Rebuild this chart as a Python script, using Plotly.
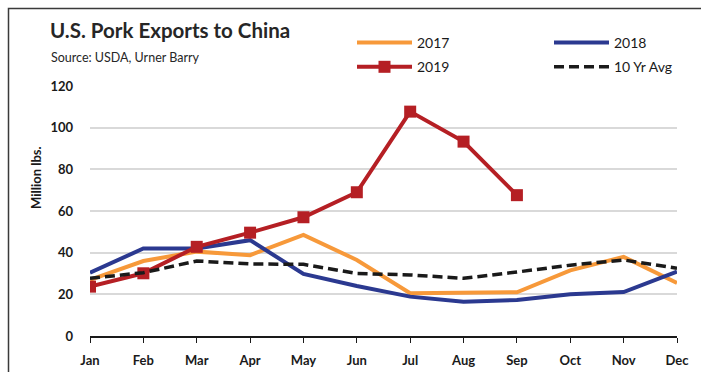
import plotly.graph_objects as go

months = ["Jan", "Feb", "Mar", "Apr", "May", "Jun", "Jul", "Aug", "Sep", "Oct", "Nov", "Dec"]
y2017 = [27, 36, 40.5, 38.8, 48.5, 36.5, 20.5, 20.7, 21, 31.5, 38, 25.5]
y2018 = [30.4, 42, 42, 46, 29.8, 24, 18.9, 16.5, 17.3, 20, 21.1, 30.9]
y2019 = [23.7, 30.1, 42.8, 49.6, 57, 69, 107.7, 93.3, 67.6]
yavg = [27.7, 30.4, 36, 34.6, 34.4, 30, 29.3, 27.7, 30.7, 34, 36.5, 32.5]
yticks = [0, 20, 40, 60, 80, 100, 120]

W, H = 701, 372
L, R, T, B = 90, 24, 86, 36
PW, PH = W - L - R, H - T - B

def px(x):
    return (x - L) / PW

def py(y):
    return (H - B - y) / PH

FONT = "Lato"
fig = go.Figure()
fig.add_trace(go.Scatter(x=months, y=y2017, name="2017", mode="lines", legend="legend",
                         legendgroup="a", line=dict(color="#F7993A", width=4)))
fig.add_trace(go.Scatter(x=months, y=y2018, name="2018", mode="lines", legend="legend2",
                         legendgroup="b", line=dict(color="#2B3990", width=4)))
fig.add_trace(go.Scatter(x=months[:len(y2019)], y=y2019, name="2019", mode="lines+markers",
                         legend="legend", legendgroup="c",
                         line=dict(color="#B51F24", width=4),
                         marker=dict(symbol="square", size=12, color="#B51F24")))
fig.add_trace(go.Scatter(x=months, y=yavg, name="10 Yr Avg", mode="lines", legend="legend2",
                         legendgroup="d", line=dict(color="#1A1A1A", width=3.5, dash="10px,5px")))

leg = dict(orientation="v", xanchor="left", yanchor="top", itemwidth=55,
           font=dict(size=14, family=FONT, color="#1a1a1a"),
           bgcolor="rgba(0,0,0,0)", tracegroupgap=3)

fig.update_layout(
    width=W, height=H,
    margin=dict(l=L, r=R, t=T, b=B, pad=0, autoexpand=False),
    paper_bgcolor="white", plot_bgcolor="white",
    font=dict(family=FONT, color="#1a1a1a"),
    showlegend=True,
    legend=dict(leg, x=px(352), y=py(27)),
    legend2=dict(leg, x=px(549), y=py(27)),
    xaxis=dict(type="category", range=[0, 11], showgrid=False, automargin=False,
               showline=True, linecolor="#1a1a1a", linewidth=1.5,
               ticks="outside", ticklen=5, tickwidth=1.2, tickcolor="#1a1a1a",
               tickfont=dict(size=13, family=FONT, weight="bold"),
               ticklabelstandoff=7, fixedrange=True),
    yaxis=dict(range=[0, 120], tickvals=yticks, showgrid=True, gridcolor="#D9D9D9",
               gridwidth=1.5, zeroline=False, showline=False, ticks="", automargin=False,
               tickfont=dict(size=13, family=FONT, weight="bold"),
               ticklabelstandoff=16, fixedrange=True),
    annotations=[
        dict(text="<b>U.S. Pork Exports to China</b>", x=px(48), y=py(30), xref="paper", yref="paper",
             xanchor="left", yanchor="middle", showarrow=False,
             font=dict(size=20.5, family=FONT, color="#262626")),
        dict(text="Source: USDA, Urner Barry", x=px(49), y=py(58), xref="paper", yref="paper",
             xanchor="left", yanchor="middle", showarrow=False,
             font=dict(size=12.5, family=FONT, color="#262626")),
        dict(text="<b>Million lbs.</b>", x=px(36), y=py(178), xref="paper", yref="paper",
             xanchor="center", yanchor="middle", showarrow=False, textangle=-90,
             font=dict(size=13, family=FONT, color="#1a1a1a")),
    ],
    shapes=[
        dict(type="rect", xref="paper", yref="paper", x0=px(8.5), x1=px(720), y0=py(400), y1=py(8.5),
             line=dict(color="#3a3a3a", width=1.5), fillcolor="rgba(0,0,0,0)", layer="below"),
    ],
)

fig.write_html("out.html")
